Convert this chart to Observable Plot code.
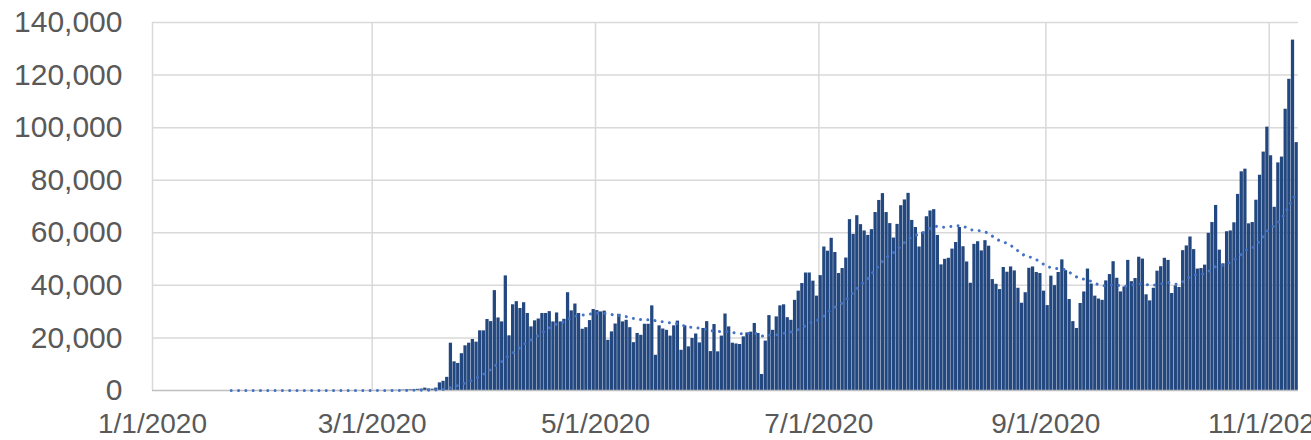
<!DOCTYPE html>
<html>
<head>
<meta charset="utf-8">
<script src="https://cdn.jsdelivr.net/npm/d3@7"></script>
<script src="https://cdn.jsdelivr.net/npm/@observablehq/plot@0.6"></script>
<style>
  html, body { margin: 0; padding: 0; background: #fff; overflow: hidden; }
</style>
</head>
<body>
<div id="chart"></div>
<script>
// Daily values, first value is 2020-01-22
const firstDay = "2020-01-22";
const jan = [1, 0, 1, 0, 3, 0, 0, 0, 0, 2];
const feb = [1, 0, 0, 0, 3, 0, 0, 0, 0, 0, 0, 1, 0, 1, 0, 0, 0, 0, 0, 0, 2, 0, 0, 0, 0, 0, 1, 10, 6];
const mar = [20, 25, 30, 40, 70, 100, 100, 120, 200, 250, 300, 350, 450, 550, 900, 600, 500, 900,
  2900, 3500, 5000, 18000, 10900, 10300, 14000, 17000, 18000, 19400, 18400, 22700, 22700];
const apr = [27000, 26200, 38000, 27600, 26100, 43600, 20800, 32600, 33800, 31200, 33400, 29300, 24200, 26500, 27200,
  29300, 29300, 30000, 26100, 29500, 26100, 27100, 37200, 30300, 32900, 29300, 23300, 23900, 26600, 30800];
const may = [30400, 29900, 30200, 19100, 22300, 25300, 29000, 26100, 26700, 23900, 18200, 21700, 21000, 25200, 25200,
  32200, 13400, 24600, 23400, 22900, 20700, 24600, 26400, 15300, 24600, 16600, 19800, 21500, 18100, 23600, 26200];
const jun = [14800, 25100, 14700, 20700, 29100, 24200, 18000, 17700, 17500, 20400, 21900, 22200, 25500, 21700, 6100,
  18800, 28500, 22900, 28000, 32200, 32600, 27700, 26700, 34300, 37800, 40700, 44700, 44700, 41600, 35900];
const jul = [43700, 54600, 53000, 57900, 52500, 44500, 46400, 50400, 65000, 59400, 66500, 63100, 60700, 59000, 61200,
  67700, 72300, 74900, 67700, 63500, 58000, 63200, 70300, 72500, 75000, 64700, 62000, 54600, 60200, 66100, 68300];
const aug = [68800, 59000, 47800, 49900, 50300, 53800, 56300, 62000, 54700, 48900, 40800, 55600, 56600, 53100, 57000,
  54900, 42200, 40400, 38400, 46800, 45000, 47000, 45500, 38900, 33200, 37200, 46500, 47000, 44900, 44500, 37800];
const sep = [32300, 43500, 39900, 44900, 49700, 45600, 34600, 26200, 23600, 33100, 37500, 46200, 40500, 35900, 34800,
  34300, 41700, 44100, 49000, 42700, 37500, 39400, 49500, 41400, 42600, 50700, 50000, 36400, 34100, 38900];
const oct = [45400, 47100, 50300, 49500, 36900, 39800, 39200, 53200, 55000, 58400, 53600, 46200, 46400, 47700, 59800,
  63900, 70400, 53400, 48200, 60400, 60700, 63800, 74600, 83200, 84200, 63400, 63900, 72400, 81900, 90700, 100200];
const nov = [89300, 69700, 86600, 88800, 107000, 118400, 133300, 94300];

const xTickDates = ["2020-01-01", "2020-03-01", "2020-05-01", "2020-07-01", "2020-09-01", "2020-11-01"];
const yTicks = [0, 20000, 40000, 60000, 80000, 100000, 120000, 140000];
const xDomain = ["2020-01-01", "2020-11-09"];
const windowDays = 30;

const values = [...jan, ...feb, ...mar, ...apr, ...may, ...jun, ...jul, ...aug, ...sep, ...oct, ...nov];
const start = new Date(firstDay + "T00:00:00Z");
const data = values.map((v, i) => ({date: d3.utcDay.offset(start, i), value: v}));
const tickDates = xTickDates.map(s => new Date(s + "T00:00:00Z"));
const fmtDate = d => `${d.getUTCMonth() + 1}/${d.getUTCDate()}/${d.getUTCFullYear()}`;

const chart = Plot.plot({
  width: 1311,
  height: 440,
  marginLeft: 152,
  marginRight: 13,
  marginTop: 22,
  marginBottom: 50,
  style: {fontFamily: "'Liberation Sans', Arial, sans-serif", fontSize: "28px", color: "#595959", background: "#fff"},
  x: {type: "utc", domain: xDomain.map(s => new Date(s + "T00:00:00Z")), ticks: tickDates, tickFormat: fmtDate,
      tickSize: 0, tickPadding: 23, label: null},
  y: {domain: [0, 140000], ticks: yTicks, tickFormat: d3.format(","), tickSize: 0, tickPadding: 30, label: null},
  marks: [
    Plot.ruleY(yTicks.slice(1), {stroke: "#d9d9d9", strokeWidth: 1.5}),
    Plot.ruleX(tickDates, {stroke: "#d9d9d9", strokeWidth: 1.5}),
    Plot.rectY(data, {x1: "date", x2: d => d3.utcDay.offset(d.date, 1), y: "value",
      fill: "#23477f", insetLeft: 0.2, insetRight: 0.2}),
    Plot.ruleY([0], {stroke: "#bfbfbf", strokeWidth: 1.5}),
    Plot.lineY(data, Plot.windowY({k: windowDays, anchor: "end", strict: false},
      {x: d => new Date(+d.date + 12 * 3600e3), y: "value", stroke: "#4472c4", strokeWidth: 3,
       strokeDasharray: "0.01 7.3", strokeLinecap: "round"}))
  ]
});
document.getElementById("chart").appendChild(chart);
d3.select(chart).selectAll('g[aria-label^="y-axis"]').attr("font-size", 30);
</script>
</body>
</html>
